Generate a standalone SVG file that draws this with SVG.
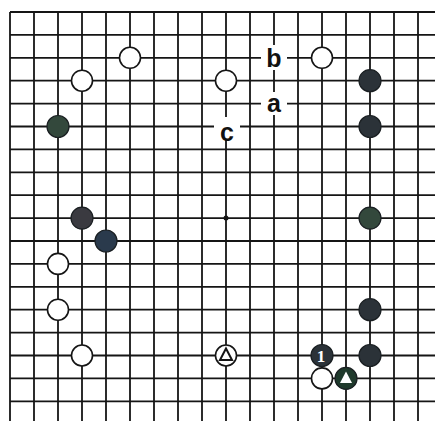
<svg xmlns="http://www.w3.org/2000/svg" width="435" height="421" viewBox="0 0 435 421">
<style>
.g line{stroke:#151515;stroke-width:1.8}
.w{fill:#fff;stroke:#151515;stroke-width:1.6}
.b{fill:#2b3238;stroke:#1a1f22;stroke-width:1.2}
.bg{fill:#33483c;stroke:#1a1f22;stroke-width:1.2}
.lbl{font-family:"Liberation Sans",Arial,sans-serif;font-weight:bold;font-size:25px;fill:#111;text-anchor:middle}
.lb{fill:#fff}
</style>
<rect width="435" height="421" fill="#fff"/>
<g id="connectors" class="g">
<line x1="10" y1="12" x2="10" y2="421"/><line x1="34" y1="12" x2="34" y2="421"/><line x1="58" y1="12" x2="58" y2="421"/><line x1="82" y1="12" x2="82" y2="421"/><line x1="106" y1="12" x2="106" y2="421"/><line x1="130" y1="12" x2="130" y2="421"/><line x1="154" y1="12" x2="154" y2="421"/><line x1="178" y1="12" x2="178" y2="421"/><line x1="202" y1="12" x2="202" y2="421"/><line x1="226" y1="12" x2="226" y2="421"/><line x1="250" y1="12" x2="250" y2="421"/><line x1="274" y1="12" x2="274" y2="421"/><line x1="298" y1="12" x2="298" y2="421"/><line x1="322" y1="12" x2="322" y2="421"/><line x1="346" y1="12" x2="346" y2="421"/><line x1="370" y1="12" x2="370" y2="421"/><line x1="394" y1="12" x2="394" y2="421"/><line x1="418" y1="12" x2="418" y2="421"/>
<line x1="10" y1="12" x2="435" y2="12"/><line x1="10" y1="34.9" x2="435" y2="34.9"/><line x1="10" y1="57.8" x2="435" y2="57.8"/><line x1="10" y1="80.7" x2="435" y2="80.7"/><line x1="10" y1="103.6" x2="435" y2="103.6"/><line x1="10" y1="126.5" x2="435" y2="126.5"/><line x1="10" y1="149.4" x2="435" y2="149.4"/><line x1="10" y1="172.3" x2="435" y2="172.3"/><line x1="10" y1="195.2" x2="435" y2="195.2"/><line x1="10" y1="218.1" x2="435" y2="218.1"/><line x1="10" y1="241" x2="435" y2="241"/><line x1="10" y1="263.9" x2="435" y2="263.9"/><line x1="10" y1="286.8" x2="435" y2="286.8"/><line x1="10" y1="309.7" x2="435" y2="309.7"/><line x1="10" y1="332.6" x2="435" y2="332.6"/><line x1="10" y1="355.5" x2="435" y2="355.5"/><line x1="10" y1="378.4" x2="435" y2="378.4"/><line x1="10" y1="401.3" x2="435" y2="401.3"/>
<circle cx="226" cy="218.1" r="2.5" fill="#151515"/>
</g>
<g id="label-b"><rect class="lb" x="261" y="45" width="26" height="25"/><text class="lbl" x="274" y="67">b</text></g>
<g id="label-a"><rect class="lb" x="261" y="92" width="26" height="23"/><text class="lbl" x="274" y="112">a</text></g>
<g id="label-c"><rect class="lb" x="214" y="117" width="26" height="23"/><text class="lbl" x="227" y="141">c</text></g>
<g id="w1"><circle class="w" cx="130" cy="57.8" r="10.5"/></g>
<g id="w2"><circle class="w" cx="82" cy="80.7" r="10.5"/></g>
<g id="w3"><circle class="w" cx="226" cy="80.7" r="10.5"/></g>
<g id="w4"><circle class="w" cx="322" cy="57.8" r="10.5"/></g>
<g id="w5"><circle class="w" cx="58" cy="263.9" r="10.5"/></g>
<g id="w6"><circle class="w" cx="58" cy="309.7" r="10.5"/></g>
<g id="w7"><circle class="w" cx="82" cy="355.5" r="10.5"/></g>
<g id="w8"><circle class="w" cx="226" cy="355.5" r="10.5"/><polygon points="226,348.5 232,360 220,360" fill="#fff" stroke="#151515" stroke-width="2"/></g>
<g id="w9"><circle class="w" cx="322" cy="378.4" r="10.5"/></g>
<g id="b1"><circle class="bg" cx="58" cy="126.5" r="11"/></g>
<g id="b2"><circle class="b" cx="370" cy="80.7" r="11"/></g>
<g id="b3"><circle class="b" cx="370" cy="126.5" r="11"/></g>
<g id="b4"><circle class="b" cx="82" cy="218.1" r="11" style="fill:#3a3a40"/></g>
<g id="b5"><circle class="b" cx="106" cy="241" r="11" style="fill:#2a3a4c"/></g>
<g id="b6"><circle class="bg" cx="370" cy="218.1" r="11"/></g>
<g id="b7"><circle class="b" cx="370" cy="309.7" r="11"/></g>
<g id="b8"><circle class="b" cx="370" cy="355.5" r="11"/></g>
<g id="b9"><circle class="b" cx="322" cy="355.5" r="11"/><text x="321" y="362" font-family="Liberation Serif,serif" font-weight="bold" font-size="17" fill="#fff" text-anchor="middle">1</text></g>
<g id="b10"><circle class="bg" cx="346" cy="378.4" r="11" style="fill:#1f3a2c"/><polygon points="346,371.5 352,383 340,383" fill="#fff"/></g>
</svg>
